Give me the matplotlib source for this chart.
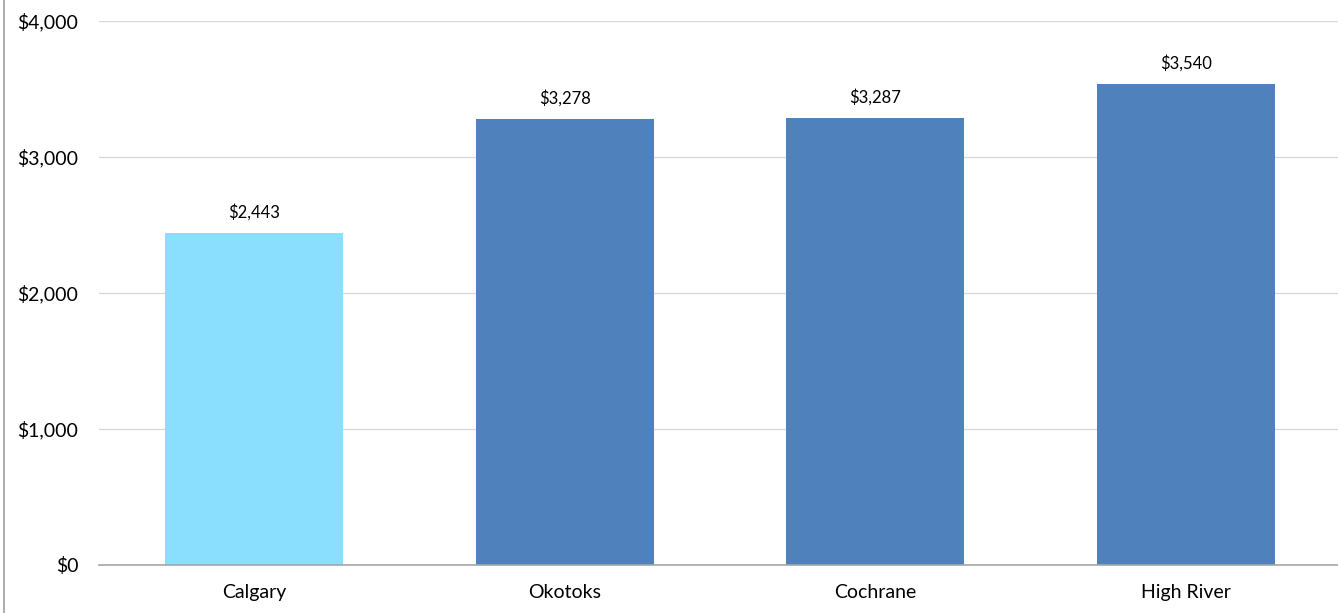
import matplotlib
matplotlib.use("Agg")
import matplotlib.pyplot as plt
from matplotlib.lines import Line2D

categories = ["Calgary", "Okotoks", "Cochrane", "High River"]
values = [2443, 3278, 3287, 3540]
colors = ["#8ADFFE", "#4F81BD", "#4F81BD", "#4F81BD"]
yticks = [0, 1000, 2000, 3000, 4000]

plt.rcParams['font.family'] = ['Lato', 'DejaVu Sans']

fig = plt.figure(figsize=(13.38, 6.13), dpi=100)
ax = fig.add_axes([99/1338, 1-565/613, 1242/1338, (565-21)/613])

x = list(range(len(categories)))
bars = ax.bar(x, values, width=0.573, color=colors, zorder=3)
for xi, v in zip(x, values):
    ax.text(xi, v + 90, f"${v:,}", ha="center", va="bottom", fontsize=12, color="#000000")

ax.set_xlim(-0.5, 3.5)
ax.set_ylim(0, 4000)
ax.set_yticks(yticks)
ax.set_yticklabels([f"${t:,}" for t in yticks], fontsize=14)
ax.set_xticks(x)
ax.set_xticklabels(categories, fontsize=14)
ax.tick_params(axis="y", length=0, pad=15)
ax.tick_params(axis="x", length=0, pad=14)
ax.grid(axis="y", color="#D9D9D9", linewidth=1, zorder=0)
for s in ["top", "right", "left"]:
    ax.spines[s].set_visible(False)
ax.spines["bottom"].set_color("#A6A6A6")
ax.spines["bottom"].set_linewidth(1.2)
ax.spines["bottom"].set_zorder(4)

fig.add_artist(Line2D([3.5/1338, 3.5/1338], [0, 1], transform=fig.transFigure, color="#A0A0A0", linewidth=1.2))

fig.savefig("out.png", dpi=100)
